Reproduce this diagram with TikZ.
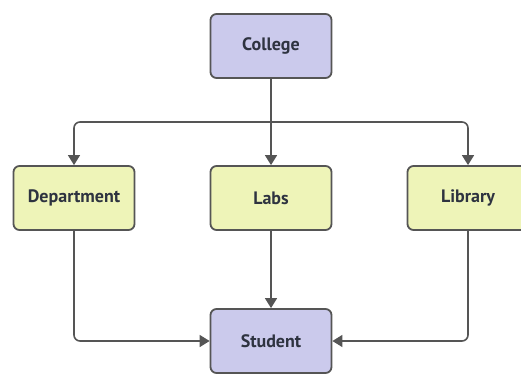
\documentclass[tikz,border=0pt]{standalone}
\usepackage{fontspec}
\setmainfont{PT Sans}
\usetikzlibrary{arrows.meta}
\definecolor{boxpurple}{HTML}{CBCAEC}
\definecolor{boxyellow}{HTML}{EEF4B8}
\definecolor{edge}{HTML}{555555}
\definecolor{txt}{HTML}{2E3340}
\tikzset{
  x=1pt,y=-1pt,
  box/.style={draw=edge, line width=1.8pt, rounded corners=6pt, minimum width=121pt, minimum height=64pt, inner sep=0pt, font=\fontsize{18}{20}\selectfont\bfseries, text=txt},
  pbox/.style={box, fill=boxpurple},
  ybox/.style={box, fill=boxyellow},
  conn/.style={draw=edge, line width=1.6pt, rounded corners=6pt, -{Triangle[width=12pt,length=10pt]}}
}
\begin{document}
\begin{tikzpicture}
\useasboundingbox (0,0) rectangle (521,374);
\begin{scope}
\clip (0,0) rectangle (521,374);
\node[pbox] (college) at (271,46) {College};
\node[ybox] (dept) at (74,198) {Department};
\node[ybox] (labs) at (271,198) {Labs};
\node[ybox] (lib) at (468,198) {Library};
\node[pbox] (student) at (271,341) {Student};
\coordinate (split) at (271,122);
\draw[conn] (college.south) -- (labs.north);
\draw[conn] (split) -| (dept.north);
\draw[conn] (split) -| (lib.north);
\draw[conn] (dept.south) |- (student.west);
\draw[conn] (lib.south) |- (student.east);
\draw[conn] (labs.south) -- (student.north);
\end{scope}
\end{tikzpicture}
\end{document}
